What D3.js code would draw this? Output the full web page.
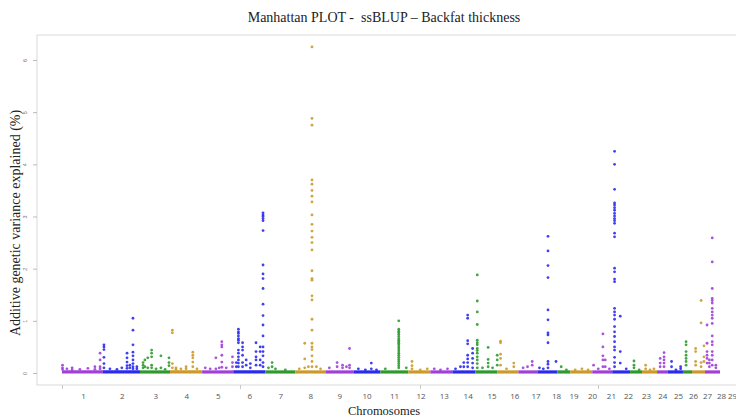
<!DOCTYPE html>
<html><head><meta charset="utf-8">
<script src="https://cdn.jsdelivr.net/npm/d3@7"></script>
<style>body{margin:0;background:#fff}svg{display:block}</style>
</head><body>
<svg id="chart" width="736" height="417"></svg>
<script>
// ---------------- DATA ----------------
const chromosomes = ["1","2","3","4","5","6","7","8","9","10","11","12","13","14","15","16","17","18","19","20","21","22","23","24","25","26","27","28","29"];
const chrLengths = [158,143,116,124,120,124,116,116,108,104,108,85,85,89,85,81,73,77,50,85,77,69,46,58,42,58,35,50,58]; // Mb
const yTicks = [0,1,2,3,4,5,6];
const xAxisTicks = [0,687,1382,2069];
const seriesColors = ["#a040d8","#2b2bee","#2e9a2e","#cc9a2a"]; // cycles by chromosome
// SNP columns: [chromosome, position (Mb), [variance explained (%) ...]]
const snps = [
 [1,2,[0.15,0.1,0.07]],[1,19,[0.08]],[1,39,[0.1,0.06]],[1,69,[0.07]],[1,100,[0.09]],[1,127,[0.12,0.07]],[1,147,[0.38,0.25,0.12,0.08]],
 [2,4,[0.54,0.5,0.45,0.3,0.18,0.1]],[2,27,[0.08]],[2,54,[0.07]],[2,73,[0.1]],[2,93,[0.38,0.29,0.21,0.14,0.09]],[2,104,[0.15,0.1]],
 [2,116,[1.05,0.82,0.54,0.40,0.33,0.25,0.18,0.12,0.08]],[2,131,[0.12,0.08]],
 [3,12,[0.2,0.15,0.1]],[3,19,[0.25,0.12]],[3,30,[0.29,0.1]],[3,45,[0.44,0.38,0.31,0.15,0.1]],[3,62,[0.08]],[3,81,[0.33,0.1]],[3,97,[0.07]],[3,112,[0.29,0.2,0.14]],
 [4,9,[0.82,0.77,0.18,0.1]],[4,23,[0.1,0.07]],[4,42,[0.08]],[4,62,[0.12,0.08]],[4,88,[0.40,0.34,0.29,0.21,0.12]],[4,104,[0.08]],
 [5,12,[0.1]],[5,31,[0.08]],[5,53,[0.29,0.08]],[5,66,[0.1]],[5,76,[0.60,0.54,0.5,0.34,0.21,0.11]],[5,93,[0.1]],[5,117,[0.31,0.2,0.12]],
 [6,12,[0.2,0.12]],[6,20,[0.84,0.79,0.76,0.71,0.66,0.63,0.58,0.44,0.38,0.31,0.25,0.19,0.12]],[6,36,[0.58,0.5,0.44,0.34,0.2,0.12]],
 [6,50,[0.25,0.15]],[6,66,[0.18,0.1]],[6,88,[0.58,0.41,0.31,0.25,0.15]],[6,104,[0.5,0.41,0.25,0.15]],
 [6,115,[3.07,3.03,3.0,2.96,2.92,2.73,2.07,1.90,1.81,1.62,1.32,1.10,0.92,0.71,0.5,0.41,0.33,0.2,0.12]],
 [7,12,[0.1]],[7,26,[0.2,0.12]],[7,39,[0.08]],[7,77,[0.06]],
 [8,15,[0.08]],[8,36,[0.57,0.27,0.1]],[8,50,[0.12]],
 [8,64,[6.25,4.88,4.75,3.70,3.62,3.5,3.39,3.28,3.03,2.85,2.72,2.6,2.5,2.36,1.96,1.81,1.78,1.48,1.4,1.03,0.82,0.57,0.5,0.45,0.33,0.22,0.12]],
 [8,81,[0.12]],[8,97,[0.08]],
 [9,15,[0.1]],[9,45,[0.2,0.12]],[9,66,[0.15,0.1]],[9,81,[0.12]],[9,93,[0.47,0.15,0.1]],
 [10,19,[0.08]],[10,46,[0.06]],[10,69,[0.19,0.08]],[10,89,[0.06]],
 [11,19,[0.08]],[11,71,[1.0,0.84,0.80,0.77,0.74,0.70,0.66,0.63,0.6,0.57,0.54,0.5,0.46,0.42,0.38,0.34,0.3,0.26,0.22,0.18,0.14,0.1]],[11,100,[0.1]],
 [12,14,[0.22,0.14,0.08]],[12,46,[0.06]],[12,73,[0.08]],
 [13,15,[0.08]],[13,39,[0.06]],[13,66,[0.08]],
 [14,12,[0.08]],[14,31,[0.12]],[14,44,[0.2,0.12]],[14,59,[1.11,1.05,0.62,0.56,0.34,0.27,0.2,0.12]],[14,78,[0.47,0.38,0.28,0.19,0.1]],
 [15,7,[1.88,1.38,1.17,0.93,0.63,0.58,0.54,0.47,0.43,0.38,0.31,0.25,0.18,0.1]],[15,27,[0.1]],[15,49,[0.49,0.26,0.19,0.12]],[15,66,[0.1]],[15,84,[0.34,0.25,0.15]],
 [16,12,[0.61,0.58,0.36,0.28,0.15]],[16,35,[0.08]],[16,63,[0.19,0.12]],
 [17,18,[0.1]],[17,35,[0.12]],[17,53,[0.22,0.15]],
 [18,8,[0.1]],[18,23,[0.08]],[18,41,[2.62,2.34,2.06,1.83,1.21,1.02,0.77,0.73,0.58,0.22,0.17,0.1]],[18,72,[0.22]],
 [19,15,[0.12]],[19,35,[0.06]],
 [20,19,[0.06]],[20,45,[0.08]],[20,69,[0.06]],
 [21,5,[0.15]],[21,23,[0.08]],[21,41,[0.75,0.5,0.33,0.25,0.12]],[21,50,[0.25,0.12]],[21,66,[0.08]],
 [22,9,[4.25,4.0,3.52,3.26,3.22,3.17,3.12,3.06,3.01,2.96,2.92,2.87,2.68,2.61,2.01,1.94,1.80,1.75,1.24,1.17,1.11,1.03,0.89,0.79,0.70,0.6,0.5,0.44,0.3,0.2,0.12]],
 [22,31,[1.09,0.41,0.19]],[22,54,[0.08]],
 [23,15,[0.23,0.15,0.1]],[23,35,[0.06]],
 [24,14,[0.15,0.08]],[24,31,[0.06]],[24,46,[0.08]],
 [25,12,[0.28,0.19,0.12]],[25,27,[0.39,0.31,0.25,0.19,0.12]],
 [26,14,[0.22,0.12]],[26,31,[0.06]],[26,49,[0.12,0.08]],
 [27,12,[0.6,0.54,0.41,0.34,0.28,0.22,0.15]],
 [28,14,[0.47,0.41,0.22,0.15]],[28,35,[1.39,0.96,0.2,0.12]],[28,46,[0.52,0.31,0.22]],
 [29,8,[0.92,0.57,0.41,0.34,0.28,0.19]],[29,17,[0.25,0.19,0.12]],
 [29,28,[2.59,2.13,1.62,1.43,1.39,1.34,1.24,1.17,1.11,1.05,0.95,0.71,0.6,0.54,0.41,0.34,0.25,0.15]],[29,42,[0.15,0.1]]
];

// ---------------- CHART ----------------
const svg = d3.select("#chart");
const starts = [];
let acc = 0;
chrLengths.forEach(l => { starts.push(acc); acc += l; });
const total = acc;
const mids = chrLengths.map((l,i) => starts[i] + l/2);

const x = d3.scaleLinear().domain([0, total]).range([62, 720]);
const y = d3.scaleLinear().domain([0, 6]).range([373, 60]);
// chromosome label placement (labels drift right like the reference)
const labelScale = d3.scaleLinear()
  .domain([mids[0], mids[10], mids[19], mids[21], mids[24], mids[26], mids[27], mids[28]])
  .range([83, 394, 592, 628, 678, 707, 721, 732]);
const color = i => seriesColors[i % 4];

// frame
svg.append("rect").attr("x",37).attr("y",35).attr("width",720).attr("height",350)
  .attr("fill","none").attr("stroke","#d9d9d9").attr("stroke-width",1);

// y axis
const gy = svg.append("g").attr("transform","translate(37,0)")
  .call(d3.axisLeft(y).tickValues(yTicks).tickSize(4).tickFormat(d3.format("d")));
gy.select(".domain").remove();
gy.selectAll("line").attr("stroke","#bbb");
gy.selectAll("text").attr("transform","rotate(-90)").attr("x",0).attr("y",-10).attr("dy",0)
  .attr("text-anchor","middle").attr("fill","#777").style("font-size","5.5px").style("font-family","Liberation Sans, sans-serif");

// x axis ticks (unlabelled)
const gx = svg.append("g").attr("transform","translate(0,385)")
  .call(d3.axisBottom(x).tickValues(xAxisTicks).tickSize(4).tickFormat(""));
gx.select(".domain").remove();
gx.selectAll("line").attr("stroke","#c8c8c8");

// chromosome labels
const gl = svg.append("g").attr("transform","translate(0,390)")
  .call(d3.axisBottom(labelScale).tickValues(mids).tickSize(0).tickFormat((d,i) => chromosomes[i]));
gl.select(".domain").remove();
gl.selectAll("text").attr("fill","#555").style("font-size","8px").style("font-family","Open Sans, sans-serif");

// baseline band of non-associated SNPs
svg.append("g").selectAll("line").data(chrLengths).join("line")
  .attr("x1",(d,i)=>x(starts[i])).attr("x2",(d,i)=>x(starts[i]+d))
  .attr("y1",y(0.02)).attr("y2",y(0.02))
  .attr("stroke",(d,i)=>color(i)).attr("stroke-width",3.2);

// points
const pts = [];
snps.forEach(([c,p,vals]) => vals.forEach(v => pts.push({c, g: starts[c-1]+p, v})));
svg.append("g").selectAll("circle").data(pts).join("circle")
  .attr("cx", d => x(d.g)).attr("cy", d => y(d.v)).attr("r", 1.4)
  .attr("fill", d => color(d.c-1)).attr("fill-opacity",0.9);

// titles
svg.append("text").attr("x",384).attr("y",22).attr("text-anchor","middle")
  .style("font-family","Liberation Serif, Times New Roman, serif").style("font-size","14px").style("white-space","pre").attr("fill","#222")
  .text("Manhattan PLOT -  ssBLUP \u2013 Backfat thickness");
svg.append("text").attr("transform","translate(20,223) rotate(-90)").attr("text-anchor","middle")
  .style("font-family","Liberation Serif, Times New Roman, serif").style("font-size","14px").attr("fill","#222")
  .text("Additive genetic variance explained (%)");
svg.append("text").attr("x",384).attr("y",415).attr("text-anchor","middle")
  .style("font-family","Liberation Serif, Times New Roman, serif").style("font-size","12.5px").attr("fill","#222")
  .text("Chromosomes");
</script>
</body></html>
